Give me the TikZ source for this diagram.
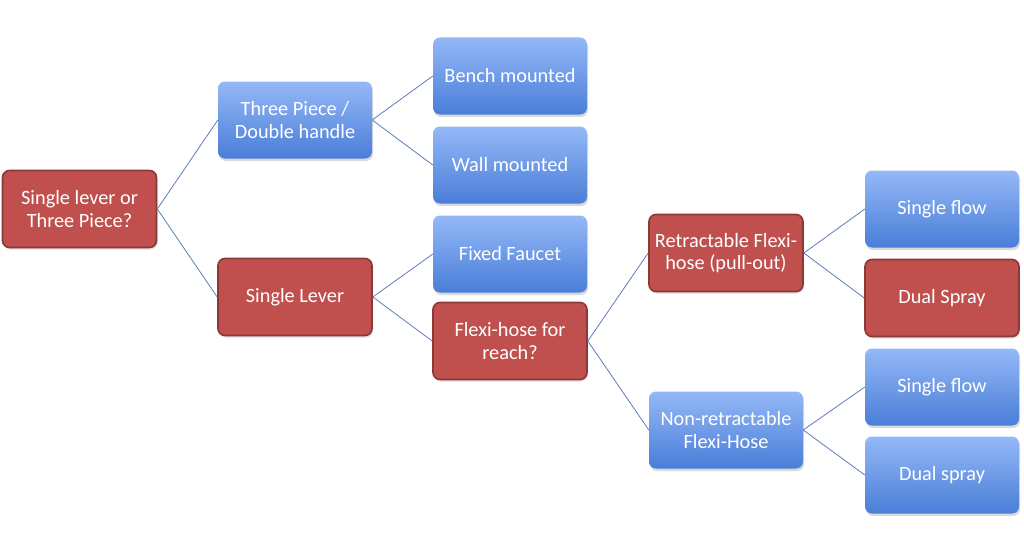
\documentclass[tikz,border=0pt]{standalone}
\usepackage{fontspec}
\setmainfont{Carlito}
\usetikzlibrary{shadows}
\definecolor{redfill}{HTML}{C0504D}
\definecolor{redline}{HTML}{8C3836}
\definecolor{bluetop}{HTML}{94B8F7}
\definecolor{bluebot}{HTML}{4A7ED8}
\definecolor{linkcol}{HTML}{5B7DB8}
\tikzset{
  box/.style={minimum width=154pt, minimum height=77pt, rounded corners=7pt,
    align=center, text=white, font=\fontsize{20.3}{22.5}\selectfont, inner sep=2pt},
  redbox/.style={box, fill=redfill, draw=redline, line width=1.6pt,
    drop shadow={shadow xshift=1pt, shadow yshift=-2pt, opacity=0.25}},
  bluebox/.style={box, top color=bluetop, bottom color=bluebot, draw=none,
    drop shadow={shadow xshift=1pt, shadow yshift=-2.5pt, opacity=0.3}},
  link/.style={draw=linkcol, line width=0.8pt}
}
\begin{document}
\begin{tikzpicture}[x=1pt,y=-1pt]
\useasboundingbox (0,0) rectangle (1024,551);
\node[redbox] (A) at (79.5,209) {Single lever or\\Three Piece?};
\node[bluebox] (B) at (295,120) {Three Piece /\\Double handle};
\node[redbox] (C) at (295,297) {Single Lever};
\node[bluebox] (D) at (510,76) {Bench mounted};
\node[bluebox] (E) at (510,165) {Wall mounted};
\node[bluebox] (F) at (510,254) {Fixed Faucet};
\node[redbox] (G) at (510,341) {Flexi-hose for\\reach?};
\node[redbox] (H) at (726,253) {Retractable Flexi-\\hose (pull-out)};
\node[bluebox] (I) at (726,430) {Non-retractable\\Flexi-Hose};
\node[bluebox] (J) at (942,209) {Single flow};
\node[redbox] (K) at (942,298) {Dual Spray};
\node[bluebox] (L) at (942,387) {Single flow};
\node[bluebox] (M) at (942,475) {Dual spray};
\draw[link] (A.east) -- (B.west);
\draw[link] (A.east) -- (C.west);
\draw[link] (B.east) -- (D.west);
\draw[link] (B.east) -- (E.west);
\draw[link] (C.east) -- (F.west);
\draw[link] (C.east) -- (G.west);
\draw[link] (G.east) -- (H.west);
\draw[link] (G.east) -- (I.west);
\draw[link] (H.east) -- (J.west);
\draw[link] (H.east) -- (K.west);
\draw[link] (I.east) -- (L.west);
\draw[link] (I.east) -- (M.west);
\end{tikzpicture}
\end{document}
